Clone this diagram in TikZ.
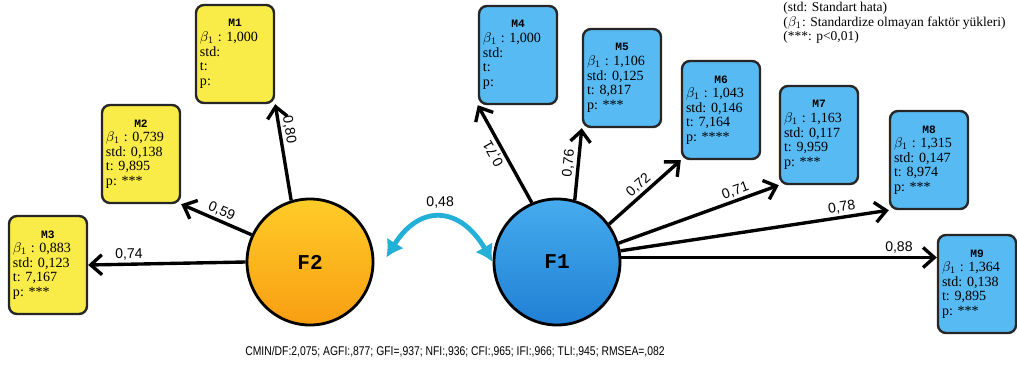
\documentclass[tikz,border=0pt]{standalone}
\usepackage{amsmath,amssymb}
\usepackage{fontspec}
\setmainfont{Liberation Serif}
\setsansfont{Liberation Sans}
\newfontfamily\slabfont{Liberation Mono}
\newfontfamily\narrowfont[FakeStretch=0.82]{Liberation Sans}
\usepackage{tikz}
\usetikzlibrary{arrows.meta}

\definecolor{boxyellow}{RGB}{250,236,72}
\definecolor{boxblue}{RGB}{88,186,242}
\definecolor{ftop}{RGB}{70,172,238}
\definecolor{fbot}{RGB}{32,128,212}
\definecolor{gtop}{RGB}{255,204,40}
\definecolor{gbot}{RGB}{248,158,18}
\definecolor{corrcyan}{RGB}{34,176,214}

\newcommand{\mtitle}{\slabfont\bfseries\fontsize{8}{9}\selectfont}

\tikzset{
  mbox/.style={draw=black!85, line width=1.7pt, rounded corners=0.2cm,
    minimum width=1.95cm, minimum height=2.45cm, text width=1.75cm,
    align=flush left, inner sep=0.1cm, font=\fontsize{10}{10.4}\selectfont},
  ybox/.style={mbox, fill=boxyellow},
  bbox/.style={mbox, fill=boxblue},
  factor/.style={circle, draw=black, line width=2pt, minimum size=3.15cm,
    font=\slabfont\bfseries\fontsize{15}{17}\selectfont},
  load/.style={line width=2.4pt, -{Straight Barb[length=0.28cm,width=0.5cm]}},
  lbl/.style={sloped, above, inner sep=1.5pt, font=\sffamily\fontsize{10}{11}\selectfont},
  corr/.style={corrcyan, line width=3.4pt,
    {Latex[length=0.42cm,width=0.5cm]}-{Latex[length=0.42cm,width=0.5cm]}},
}

\begin{document}
\begin{tikzpicture}[x=0.025cm, y=0.025cm]
\useasboundingbox (0,0) rectangle (1017,370);

\node[factor, top color=gtop, bottom color=gbot] (f2) at (310,108) {F2};
\node[factor, top color=ftop, bottom color=fbot] (f1) at (557,108) {F1};

\foreach \id/\x/\y/\bval/\sval/\tval/\pval in {1/235/316/{1,000}/{}/{}/{},
    2/141/216/{0,739}/{0,138}/{9,895}/{***}, 3/48/105/{0,883}/{0,123}/{7,167}/{***}}
  \node[ybox] (m\id) at (\x,\y) {\hfill{\mtitle M\id}\hfill\null\\ $\beta_1$ : \bval\\ std: \sval\\ t: \tval\\ p: \pval};
\foreach \id/\x/\y/\bval/\sval/\tval/\pval in {4/518/315/{1,000}/{}/{}/{},
    5/622/292/{1,106}/{0,125}/{8,817}/{***}, 6/721/260/{1,043}/{0,146}/{7,164}/{****},
    7/819/235/{1,163}/{0,117}/{9,959}/{***}, 8/929/210/{1,315}/{0,147}/{8,974}/{***},
    9/977/86/{1,364}/{0,138}/{9,895}/{***}}
  \node[bbox] (m\id) at (\x,\y) {\hfill{\mtitle M\id}\hfill\null\\ $\beta_1$ : \bval\\ std: \sval\\ t: \tval\\ p: \pval};

\foreach \src/\ang/\dst/\anc/\val/\ps in {f2/107/m1/south east/{0,80}/0.72,
    f2/155/m2/south east/{0,59}/0.48, f1/74/m5/south west/{0,76}/0.5,
    f1/36/m6/south west/{0,72}/0.5, f1/17.6/m7/south west/{0,71}/0.75,
    f1/10.6/m8/south west/{0,78}/0.83}
  \draw[load] (\src.\ang) -- (\dst.\anc) node[lbl, pos=\ps] {\val};
\draw[load] (f2.west) -- (m3.east) node[lbl, pos=0.74] {0,74};
\draw[load] (f1.113) -- (m4.south west) node[lbl, pos=0.55, allow upside down] {0,71};
\draw[load] (f1.4) -- (f1.4 -| m9.west) node[lbl, pos=0.88] {0,88};

\draw[corr] ([xshift=0.3cm]f2.4) .. controls +(58:1.6cm) and +(120:1.6cm) .. (f1.west)
  node[midway, above=2pt, text=black, font=\sffamily\fontsize{10}{11}\selectfont] (r) {0,48};

\node[anchor=north west, align=left, inner sep=0pt, font=\fontsize{9.6}{10.4}\selectfont] (legend) at (783,368)
  {(std: Standart hata)\\ ($\beta_1$: Standardize olmayan faktör yükleri)\\ (***: p<0,01)};
\node[font=\narrowfont\fontsize{9}{10}\selectfont] (fit) at (455,18)
  {CMIN/DF:2,075; AGFI:,877; GFI=,937; NFI:,936; CFI:,965; IFI:,966; TLI:,945; RMSEA=,082};
\end{tikzpicture}
\end{document}
